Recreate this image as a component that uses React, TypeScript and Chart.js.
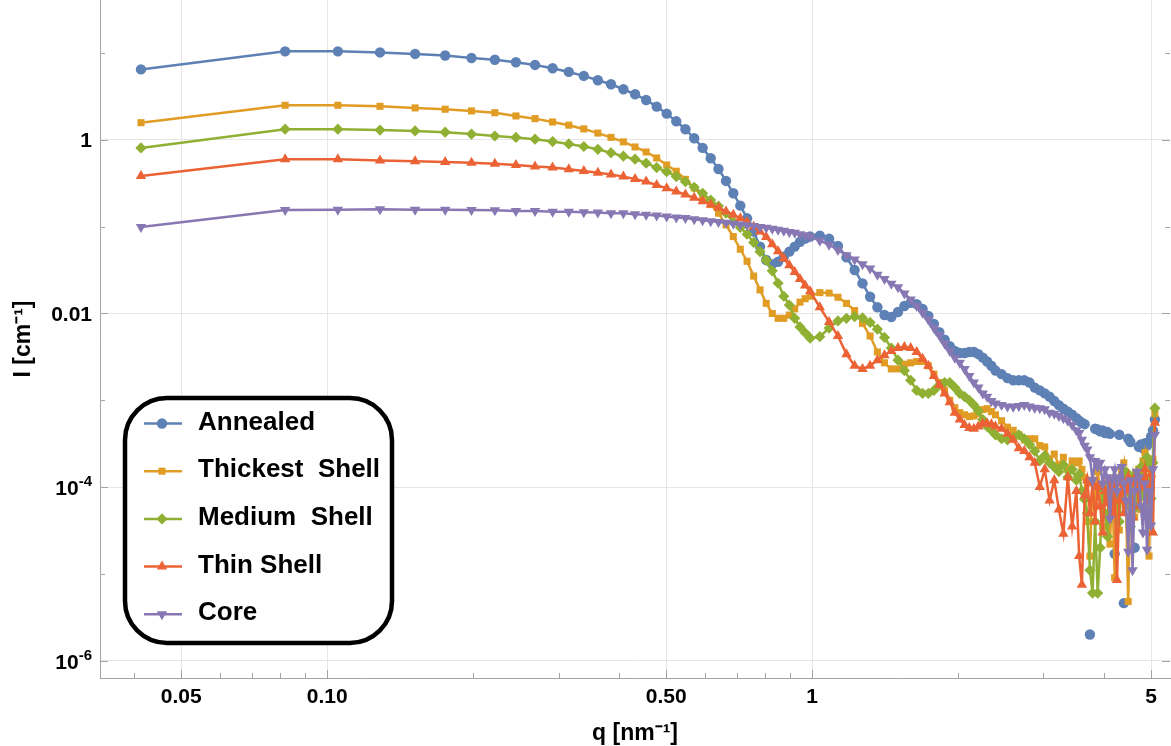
import React, { useEffect, useRef } from "react";
import { Chart, registerables } from "chart.js";
import { drawPoint } from "chart.js/helpers";

Chart.register(...registerables);

// q [nm^-1]
const Q: number[] = [
  0.0413, 0.0819, 0.1052, 0.1285, 0.1518, 0.1751, 0.1984, 0.2217, 0.245, 0.2683,
  0.2916, 0.3149, 0.3382, 0.3615, 0.3848, 0.4081, 0.4314, 0.4547, 0.478, 0.5013,
  0.5246, 0.5479, 0.5712, 0.5945, 0.6178, 0.6411, 0.6644, 0.6877, 0.711, 0.7343,
  0.7576, 0.7809, 0.8042, 0.8275, 0.8508, 0.8741, 0.8974, 0.9207, 0.944, 0.9673,
  0.9906,
  1.0372, 1.0838, 1.1304, 1.177, 1.2236, 1.2702, 1.3168, 1.3634, 1.41, 1.4566,
  1.5032, 1.5498, 1.5964, 1.643, 1.6896, 1.7362, 1.7828, 1.8294, 1.876, 1.9226,
  1.9692, 2.0158, 2.0624, 2.109, 2.1556, 2.2022, 2.2488, 2.2954, 2.342, 2.3886,
  2.4585, 2.5284, 2.5983, 2.6682, 2.7381, 2.808, 2.8779, 2.9478, 3.0177, 3.0876,
  3.1575, 3.2274, 3.2973, 3.3672, 3.4371, 3.507,
  3.5536, 3.6002, 3.6468, 3.6934, 3.74, 3.7866, 3.8332, 3.8798, 3.9264, 3.973,
  4.0196, 4.0662, 4.1128, 4.1594, 4.206, 4.2526, 4.2992, 4.3458, 4.3924, 4.439,
  4.4856, 4.5322, 4.5788, 4.6254, 4.672, 4.7186, 4.7652, 4.8118, 4.8584, 4.905,
  4.9516, 4.9982, 5.0448, 5.0914,
];

// I [cm^-1]
const ANNEALED: (number | null)[] = [
  6.5, 10.5, 10.5, 10.2, 9.8, 9.4, 8.8, 8.4, 7.86, 7.32,
  6.7, 6.08, 5.47, 4.88, 4.38, 3.84, 3.36, 2.89, 2.42, 2.01,
  1.64, 1.33, 1.045, 0.81, 0.615, 0.463, 0.337, 0.243, 0.175, 0.125,
  0.088, 0.059, 0.0414, 0.037, 0.0395, 0.045, 0.0516, 0.059, 0.067, 0.073,
  0.077,
  0.079, 0.073, 0.06, 0.0444, 0.0317, 0.0222, 0.0156, 0.0118, 0.0096, 0.0091,
  0.0104, 0.0122, 0.0133, 0.0128, 0.0113, 0.0094, 0.0076, 0.0061, 0.005, 0.0042,
  0.0037, 0.0035, 0.0035, 0.0036, 0.0036, 0.0034, 0.0031, 0.0028, 0.0025, 0.0022,
  0.002, 0.0018, 0.0017, 0.0017, 0.0017, 0.0016, 0.0014, 0.0013, 0.0012, 0.0011,
  0.00098, 0.00088, 0.0008, 0.00074, 0.00068, 0.00062,
  0.00058, 0.00055, 0.00053, null, 2.0e-6, null, 0.00047, 0.00046, 0.00044, 0.00045,
  0.00042, 0.00043, 0.00041, null, 1.7e-5, null, 0.0004, null, 4.6e-6, null,
  0.00036, 0.00033, null, 2.0e-5, null, 0.00029, 0.00031, 0.00028, 0.00032, 0.0003,
  0.00033, 0.00038, 0.00045, 0.0006,
];

const THICKEST_SHELL: (number | null)[] = [
  1.58, 2.51, 2.51, 2.44, 2.34, 2.26, 2.16, 2.06, 1.89, 1.76,
  1.61, 1.48, 1.34, 1.2, 1.07, 0.95, 0.83, 0.727, 0.62, 0.515,
  0.436, 0.352, 0.28, 0.225, 0.18, 0.143, 0.105, 0.077, 0.055, 0.04,
  0.027, 0.0187, 0.0131, 0.01, 0.0088, 0.0088, 0.0096, 0.0113, 0.0135, 0.0148,
  0.0158,
  0.0174, 0.0172, 0.0154, 0.0131, 0.0108, 0.0077, 0.0055, 0.0036, 0.0027, 0.0023,
  0.0023, 0.0026, 0.0027, 0.0028, 0.0028, 0.0025, 0.002, 0.0016, 0.0013, 0.001,
  0.00082, 0.00072, 0.00068, 0.00065, 0.00066, 0.0007, 0.00078, 0.0008, 0.00074, 0.00068,
  0.00058, 0.00049, 0.00045, 0.0004, 0.00035, 0.00036, 0.00036, 0.0003, 0.00029, 0.00021,
  0.00024, 0.00018, 0.00022, 0.00016, 0.0002, 0.00019,
  0.0002, 0.00016, 0.00013, 4.0e-5, 1.6e-5, 0.00012, 6.0e-5, 0.00015, 9.5e-5, 3.5e-5,
  0.00011, 8.0e-5, 2.2e-5, 0.00012, 9.0e-6, 7.0e-5, 3.2e-5, 0.00015, 0.00019, 6.0e-5,
  4.8e-6, 9.0e-5, 0.00013, 4.5e-5, 9.0e-5, 0.00016, 5.5e-5, 0.0002, 0.00025, 0.00011,
  1.6e-5, 0.00012, 0.00021, 0.0007,
];

const MEDIUM_SHELL: (number | null)[] = [
  0.81, 1.33, 1.33, 1.3, 1.27, 1.23, 1.17, 1.11, 1.07, 1.02,
  0.957, 0.9, 0.84, 0.78, 0.71, 0.65, 0.6, 0.54, 0.48, 0.43,
  0.378, 0.33, 0.285, 0.243, 0.203, 0.173, 0.143, 0.114, 0.098, 0.082,
  0.066, 0.0516, 0.041, 0.031, 0.0223, 0.0158, 0.0125, 0.0088, 0.007, 0.006,
  0.0052,
  0.0054, 0.0068, 0.0082, 0.0088, 0.0092, 0.0089, 0.0079, 0.0066, 0.0053, 0.004,
  0.0029, 0.0022, 0.0017, 0.0013, 0.0012, 0.0012, 0.0013, 0.0015, 0.0016, 0.0016,
  0.0014, 0.0012, 0.0011, 0.001, 0.00088, 0.00075, 0.0006, 0.0005, 0.00045, 0.0004,
  0.00036, 0.00035, 0.00037, 0.0004, 0.00036, 0.00031, 0.00026, 0.0002, 0.00023, 0.00019,
  0.00017, 0.00015, 0.00018, 0.00013, 0.00016, 0.00012,
  0.00014, 9.0e-5, 7.2e-5, 5.0e-5, 1.1e-5, 6.0e-6, 4.0e-5, 6.0e-6, 2.0e-5, 9.5e-5,
  5.0e-5, 2.7e-5, 0.00011, 6.5e-5, 0.00012, 8.0e-5, 4.0e-5, 0.00013, 7.0e-5, 0.00015,
  9.0e-5, 3.5e-5, 0.00011, 0.00014, 5.9e-5, 0.00012, 0.00017, 8.0e-5, 0.00013, 0.00022,
  0.00019, 7.4e-5, 0.00019, 0.00081,
];

const THIN_SHELL: (number | null)[] = [
  0.385, 0.6, 0.6, 0.578, 0.568, 0.557, 0.547, 0.53, 0.515, 0.493,
  0.48, 0.459, 0.44, 0.42, 0.4, 0.378, 0.355, 0.331, 0.303, 0.277,
  0.255, 0.235, 0.215, 0.197, 0.18, 0.165, 0.15, 0.137, 0.125, 0.113,
  0.1, 0.088, 0.076, 0.063, 0.052, 0.043, 0.036, 0.03, 0.025, 0.021,
  0.018,
  0.0118, 0.008, 0.0055, 0.0034, 0.0025, 0.0023, 0.0025, 0.0029, 0.0033, 0.0037,
  0.004, 0.0041, 0.004, 0.0036, 0.003, 0.0025, 0.0019, 0.0015, 0.0012, 0.00095,
  0.00072, 0.0006, 0.00052, 0.00048, 0.00047, 0.0005, 0.00054, 0.00054, 0.00053, 0.0005,
  0.00047, 0.00041, 0.00035, 0.00028, 0.00026, 0.00022, 0.00019, 0.0001, 0.00016, 7.0e-5,
  0.00012, 5.5e-5, 2.9e-5, 0.00013, 3.5e-5, 9.0e-5,
  1.6e-5, 7.5e-6, 8.0e-5, 0.00012, 5.0e-5, 0.00011, 4.0e-5, 0.0001, 6.0e-5, 3.0e-5,
  9.0e-5, 6.5e-5, 0.00012, 5.0e-5, 0.0001, 8.5e-6, 7.0e-5, 0.00011, 5.0e-5, 9.0e-5,
  0.00013, 7.0e-5, 4.5e-5, 0.00011, 0.00014, 6.0e-5, 0.00012, 0.0001, 0.00016, 0.00011,
  7.0e-5, 0.00014, 3.0e-5, 0.00055,
];

const CORE: (number | null)[] = [
  0.099, 0.156, 0.157, 0.159, 0.157, 0.157, 0.156, 0.155, 0.152, 0.152,
  0.149, 0.149, 0.147, 0.146, 0.143, 0.143, 0.139, 0.137, 0.135, 0.131,
  0.128, 0.126, 0.122, 0.119, 0.116, 0.113, 0.111, 0.108, 0.106, 0.104,
  0.102, 0.099, 0.097, 0.095, 0.092, 0.09, 0.087, 0.085, 0.082, 0.08,
  0.077,
  0.069, 0.062, 0.054, 0.047, 0.042, 0.037, 0.033, 0.028, 0.025, 0.022,
  0.02, 0.017, 0.0145, 0.0122, 0.0102, 0.0085, 0.0068, 0.0056, 0.0045, 0.0037,
  0.0031, 0.0027, 0.0023, 0.0019, 0.0016, 0.0014, 0.0012, 0.0011, 0.00098, 0.00092,
  0.00088, 0.00085, 0.00084, 0.00086, 0.00088, 0.00085, 0.00082, 0.00081, 0.00079, 0.00072,
  0.0007, 0.00066, 0.00062, 0.00058, 0.00052, 0.00045,
  0.00042, 0.00035, 0.0003, 0.00027, 0.00022, 0.00012, 0.0002, 0.00017, 0.00019, 0.00011,
  0.00016, 0.00013, 4.3e-5, 0.00012, 0.00016, 9.0e-5, 0.00013, 0.00017, 0.00011, 7.0e-5,
  1.8e-5, 0.00012, 1.1e-5, 9.0e-5, 0.00015, 0.00013, 6.0e-5, 3.0e-5, 0.00011, 1.9e-5,
  9.0e-5, 3.6e-5, 0.00016, 0.0004,
];

const SERIES_NAMES = ["Annealed", "Thickest  Shell", "Medium  Shell", "Thin Shell", "Core"];

const X_TICKS = [0.05, 0.1, 0.5, 1, 5];
const X_TICK_LABELS = ["0.05", "0.10", "0.50", "1", "5"];
const X_MINOR_TICKS = [0.04, 0.06, 0.07, 0.08, 0.09, 0.2, 0.3, 0.4, 0.6, 0.7, 0.8, 0.9, 2, 3, 4];
const Y_TICKS = [1e-6, 1e-4, 0.01, 1];
// mantissa / exponent pairs for the y tick labels ("" exponent = plain label)
const Y_TICK_BASES = ["10", "10", "0.01", "1"];
const Y_TICK_EXPONENTS = ["-6", "-4", "", ""];
const Y_MINOR_TICKS = [1e-5, 1e-3, 0.1, 10];

const X_TITLE = "q [nm⁻¹]";
const Y_TITLE = "I [cm⁻¹]";

const STYLES = [
  { color: "#5E81B5", pointStyle: "circle", radius: 5.2, rotation: 0 },
  { color: "#E19C24", pointStyle: "rect", radius: 5, rotation: 0 },
  { color: "#8FB032", pointStyle: "rectRot", radius: 5.6, rotation: 0 },
  { color: "#EB6235", pointStyle: "triangle", radius: 6, rotation: 0 },
  { color: "#8778B3", pointStyle: "triangle", radius: 6, rotation: 180 },
];

const FONT_FAMILY = '"Liberation Sans", Arial, Helvetica, sans-serif';
const AXIS_GRAY = "#a4a4a4";

const frameTicksPlugin = {
  id: "frameTicks",
  afterDraw(chart: any) {
    const { ctx, chartArea: a, scales } = chart;
    const xs = scales.x;
    const ys = scales.y;
    ctx.save();
    ctx.strokeStyle = AXIS_GRAY;
    ctx.lineWidth = 1;
    const seg = (x1: number, y1: number, x2: number, y2: number) => {
      ctx.beginPath();
      ctx.moveTo(x1, y1);
      ctx.lineTo(x2, y2);
      ctx.stroke();
    };
    const xt = (v: number, len: number) => {
      const x = Math.round(xs.getPixelForValue(v)) + 0.5;
      seg(x, a.bottom, x, a.bottom - len);
    };
    const yt = (v: number, len: number) => {
      const y = Math.round(ys.getPixelForValue(v)) + 0.5;
      seg(a.left, y, a.left + len, y);
      seg(a.right, y, a.right - len, y);
    };
    X_TICKS.forEach((v) => xt(v, 8));
    X_MINOR_TICKS.forEach((v) => xt(v, 5));
    Y_TICKS.forEach((v) => yt(v, 8));
    Y_MINOR_TICKS.forEach((v) => yt(v, 5));

    // y tick labels with real superscripts
    ctx.fillStyle = "#000000";
    ctx.textBaseline = "alphabetic";
    ctx.textAlign = "right";
    Y_TICKS.forEach((v, i) => {
      const y = ys.getPixelForValue(v);
      const rightX = a.left - 8;
      const base = Y_TICK_BASES[i];
      const exp = Y_TICK_EXPONENTS[i];
      if (exp) {
        ctx.font = `bold 15px ${FONT_FAMILY}`;
        const ew = ctx.measureText(exp).width;
        ctx.fillText(exp, rightX, y - 1);
        ctx.font = `bold 21px ${FONT_FAMILY}`;
        ctx.fillText(base, rightX - ew, y + 8);
      } else {
        ctx.font = `bold 21px ${FONT_FAMILY}`;
        ctx.fillText(base, rightX, y + 7.5);
      }
    });
    ctx.restore();
  },
};

const boxLegendPlugin = {
  id: "boxLegend",
  afterDraw(chart: any) {
    const ctx: CanvasRenderingContext2D = chart.ctx;
    const left = 125, top = 398, right = 392, bottom = 643, r = 42;
    ctx.save();
    ctx.beginPath();
    ctx.moveTo(left + r, top);
    ctx.lineTo(right - r, top);
    ctx.arcTo(right, top, right, top + r, r);
    ctx.lineTo(right, bottom - r);
    ctx.arcTo(right, bottom, right - r, bottom, r);
    ctx.lineTo(left + r, bottom);
    ctx.arcTo(left, bottom, left, bottom - r, r);
    ctx.lineTo(left, top + r);
    ctx.arcTo(left, top, left + r, top, r);
    ctx.closePath();
    ctx.fillStyle = "#ffffff";
    ctx.fill();
    ctx.lineWidth = 4.5;
    ctx.strokeStyle = "#000000";
    ctx.stroke();

    SERIES_NAMES.forEach((name, i) => {
      const s = STYLES[i];
      const y = 423.5 + i * 47.7;
      ctx.strokeStyle = s.color;
      ctx.lineWidth = 2.5;
      ctx.beginPath();
      ctx.moveTo(144, y);
      ctx.lineTo(182, y);
      ctx.stroke();
      ctx.fillStyle = s.color;
      drawPoint(ctx, { pointStyle: s.pointStyle as any, rotation: s.rotation, radius: s.radius, borderWidth: 0 }, 162, y);
      ctx.fillStyle = "#000000";
      ctx.font = `bold 26px ${FONT_FAMILY}`;
      ctx.textBaseline = "middle";
      ctx.textAlign = "left";
      ctx.fillText(name, 198, y - 1);
    });
    ctx.restore();
  },
};

export default function App() {
  const canvasRef = useRef<HTMLCanvasElement | null>(null);

  useEffect(() => {
    document.body.style.margin = "0";
    const canvas = canvasRef.current;
    if (!canvas) return;
    const seriesValues = [ANNEALED, THICKEST_SHELL, MEDIUM_SHELL, THIN_SHELL, CORE];
    const tickFont = { family: FONT_FAMILY, size: 21, weight: "bold" as const };
    const titleFont = { family: FONT_FAMILY, size: 23, weight: "bold" as const, lineHeight: 1 };

    const chart = new Chart(canvas, {
      type: "line",
      data: {
        datasets: seriesValues.map((vals, i) => ({
          label: SERIES_NAMES[i],
          data: Q.map((q, j) => ({ x: q, y: vals[j] })),
          borderColor: STYLES[i].color,
          backgroundColor: STYLES[i].color,
          pointBackgroundColor: STYLES[i].color,
          pointBorderWidth: 0,
          borderWidth: 2.5,
          pointStyle: STYLES[i].pointStyle as any,
          pointRadius: STYLES[i].radius,
          pointRotation: STYLES[i].rotation,
          spanGaps: false,
          tension: 0,
          order: 4 - i,
        })),
      },
      options: {
        responsive: false,
        animation: false,
        devicePixelRatio: 1,
        events: [],
        layout: { autoPadding: false, padding: { top: 0, right: 1, bottom: 0, left: 0 } },
        plugins: { legend: { display: false }, tooltip: { enabled: false } },
        scales: {
          x: {
            type: "logarithmic",
            position: "bottom",
            min: 0.034,
            max: 5.47,
            afterBuildTicks: (s: any) => {
              s.ticks = X_TICKS.map((v) => ({ value: v }));
            },
            afterFit: (s: any) => {
              s.height = 68;
              s.paddingLeft = 0;
              s.paddingRight = 0;
              s.paddingTop = 0;
              s.paddingBottom = 0;
            },
            ticks: {
              callback: (_v: any, idx: number) => X_TICK_LABELS[idx],
              color: "#000000",
              font: tickFont,
              padding: 7,
              maxRotation: 0,
              autoSkip: false,
            },
            grid: { color: "#e6e6e6", lineWidth: 1, drawTicks: false },
            border: { display: true, color: AXIS_GRAY, width: 1 },
            title: { display: true, text: X_TITLE, color: "#000000", font: titleFont, padding: { top: 0, bottom: 1 } },
          },
          y: {
            type: "logarithmic",
            position: "left",
            min: 6.3e-7,
            max: 41,
            afterBuildTicks: (s: any) => {
              s.ticks = Y_TICKS.map((v) => ({ value: v }));
            },
            afterFit: (s: any) => {
              s.width = 100;
              s.paddingLeft = 0;
              s.paddingRight = 0;
              s.paddingTop = 0;
              s.paddingBottom = 0;
            },
            ticks: {
              display: false,
            },
            grid: { color: "#e6e6e6", lineWidth: 1, drawTicks: false },
            border: { display: true, color: AXIS_GRAY, width: 1 },
            title: { display: true, text: Y_TITLE, color: "#000000", font: titleFont, padding: { top: 12, bottom: 0 } },
          },
        },
      },
      plugins: [frameTicksPlugin, boxLegendPlugin],
    } as any);

    return () => {
      chart.destroy();
    };
  }, []);

  return (
    <div style={{ width: 1171, height: 746, position: "relative", background: "#ffffff" }}>
      <canvas ref={canvasRef} width={1171} height={746} style={{ display: "block", width: 1171, height: 746 }} />
    </div>
  );
}
